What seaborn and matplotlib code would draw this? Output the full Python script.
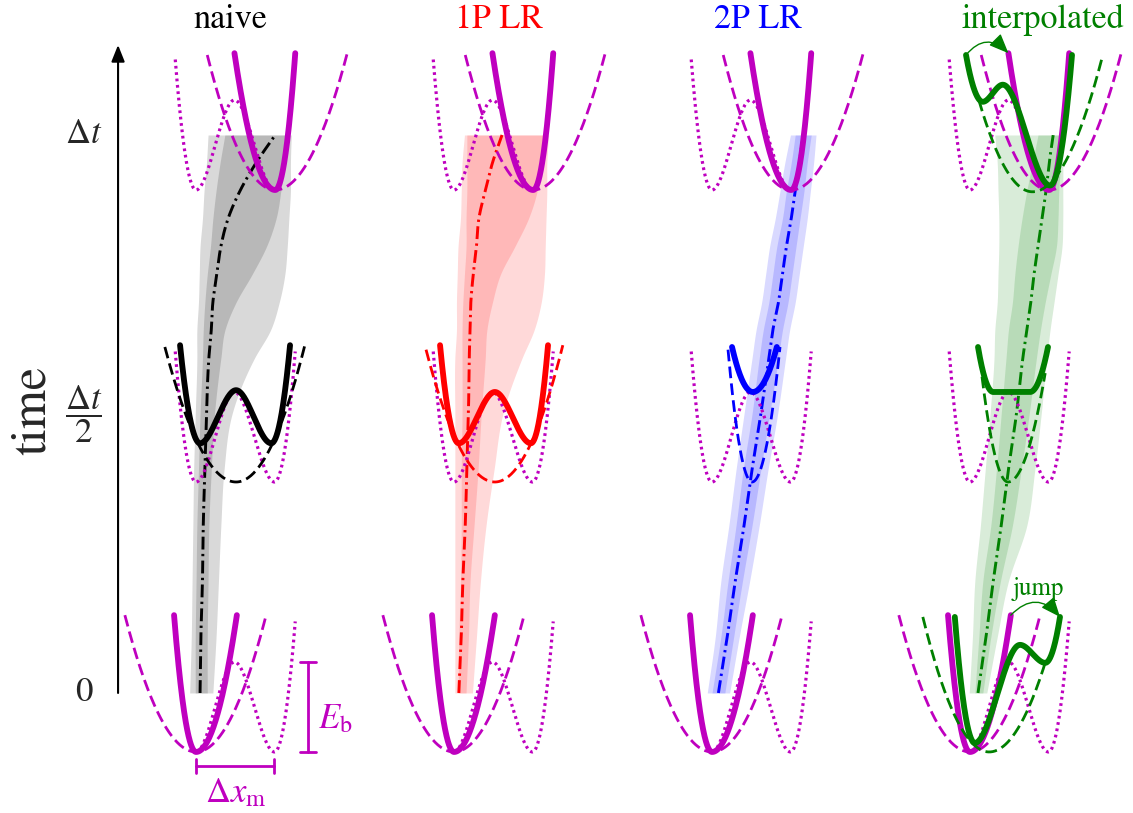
import numpy as np
import matplotlib
matplotlib.use("Agg")
import matplotlib.pyplot as plt
import seaborn as sns

# ---------------------------------------------------------------- content
METHODS = ["naive", "1P LR", "2P LR", "interpolated"]
METHOD_COLORS = ["black", "red", "blue", "green"]
TITLE_OFFSETS = [0.43, 0.56, 0.58, 0.91]
MAGENTA = "#bf00bf"

TIME_TICKS = [0.0, 0.5, 1.0]
TIME_LABELS = ["0", r"$\dfrac{\Delta t}{2}$", r"$\Delta t$"]

# trajectory ensembles: time samples, mean path and two spread bands
# (positions in units of the well separation, relative to the left minimum)
T_SAMPLES = [0.0, 0.1, 0.2, 0.3, 0.4, 0.5, 0.6, 0.65, 0.7, 0.75, 0.8, 0.85, 0.9, 0.95, 1.0]

naive_mean = [0.05, 0.06, 0.08, 0.09, 0.11, 0.13, 0.16, 0.19, 0.21, 0.26, 0.31, 0.40, 0.55, 0.75, 0.99]
naive_outer_lo = [-0.08, -0.06, -0.05, -0.04, -0.03, -0.01, 0.01, 0.01, 0.03, 0.04, 0.05, 0.08, 0.10, 0.13, 0.15]
naive_outer_hi = [0.21, 0.25, 0.28, 0.31, 0.35, 0.45, 0.73, 0.93, 1.04, 1.11, 1.14, 1.16, 1.18, 1.18, 1.19]
naive_inner_lo = [-0.01, -0.01, 0.00, 0.01, 0.03, 0.05, 0.08, 0.09, 0.11, 0.14, 0.18, 0.21, 0.25, 0.30, 0.36]
naive_inner_hi = [0.14, 0.14, 0.15, 0.16, 0.19, 0.23, 0.31, 0.36, 0.50, 0.70, 0.88, 1.00, 1.06, 1.10, 1.13]

lr1_mean = [0.06, 0.09, 0.11, 0.14, 0.16, 0.18, 0.19, 0.20, 0.21, 0.24, 0.28, 0.31, 0.39, 0.48, 0.60]
lr1_outer_lo = [0.01, 0.01, 0.01, 0.01, 0.01, 0.01, 0.01, 0.03, 0.03, 0.04, 0.05, 0.08, 0.09, 0.10, 0.13]
lr1_outer_hi = [0.23, 0.28, 0.33, 0.40, 0.50, 0.61, 0.85, 1.00, 1.09, 1.13, 1.14, 1.15, 1.16, 1.16, 1.18]
lr1_inner_lo = [0.05, 0.06, 0.08, 0.09, 0.09, 0.10, 0.10, 0.10, 0.11, 0.13, 0.15, 0.15, 0.16, 0.16, 0.16]
lr1_inner_hi = [0.15, 0.18, 0.20, 0.25, 0.30, 0.34, 0.39, 0.41, 0.48, 0.58, 0.76, 0.93, 1.04, 1.09, 1.11]

lr2_mean = [0.08, 0.19, 0.29, 0.40, 0.50, 0.61, 0.71, 0.76, 0.83, 0.88, 0.93, 0.99, 1.04, 1.09, 1.14]
lr2_outer_lo = [-0.06, 0.04, 0.11, 0.21, 0.30, 0.40, 0.50, 0.55, 0.62, 0.67, 0.72, 0.79, 0.85, 0.91, 0.98]
lr2_outer_hi = [0.22, 0.34, 0.47, 0.59, 0.70, 0.82, 0.92, 0.97, 1.04, 1.09, 1.14, 1.19, 1.23, 1.27, 1.30]
lr2_inner_lo = [0.00, 0.11, 0.20, 0.30, 0.39, 0.50, 0.59, 0.64, 0.71, 0.76, 0.81, 0.88, 0.93, 0.99, 1.04]
lr2_inner_hi = [0.16, 0.27, 0.38, 0.50, 0.61, 0.72, 0.83, 0.88, 0.95, 1.00, 1.05, 1.10, 1.15, 1.19, 1.24]

interp_mean = [0.10, 0.20, 0.29, 0.39, 0.48, 0.58, 0.66, 0.71, 0.76, 0.80, 0.85, 0.90, 0.95, 0.99, 1.04]
interp_outer_lo = [-0.01, 0.03, 0.06, 0.13, 0.19, 0.25, 0.30, 0.31, 0.34, 0.35, 0.36, 0.36, 0.35, 0.34, 0.31]
interp_outer_hi = [0.21, 0.34, 0.48, 0.71, 0.81, 0.89, 0.96, 1.00, 1.05, 1.10, 1.15, 1.16, 1.16, 1.16, 1.15]
interp_inner_lo = [0.06, 0.11, 0.16, 0.26, 0.33, 0.39, 0.45, 0.48, 0.53, 0.56, 0.60, 0.65, 0.71, 0.78, 0.85]
interp_inner_hi = [0.16, 0.26, 0.38, 0.53, 0.64, 0.74, 0.83, 0.88, 0.94, 1.01, 1.08, 1.10, 1.11, 1.13, 1.13]

ENSEMBLES = [
    (naive_mean, naive_outer_lo, naive_outer_hi, naive_inner_lo, naive_inner_hi),
    (lr1_mean, lr1_outer_lo, lr1_outer_hi, lr1_inner_lo, lr1_inner_hi),
    (lr2_mean, lr2_outer_lo, lr2_outer_hi, lr2_inner_lo, lr2_inner_hi),
    (interp_mean, interp_outer_lo, interp_outer_hi, interp_inner_lo, interp_inner_hi),
]

# potential profiles: (position, energy in units of E_b) turning points
dw_exact = [(-0.26, 1.45), (0.0, 0.0), (0.48, 1.0), (0.98, 0.0), (1.24, 1.45)]
stiff_start = [(-0.275, 1.52), (0.0, 0.0), (0.51, 1.52)]
stiff_end = [(0.48, 1.52), (0.99, 0.0), (1.24, 1.52)]
soft_start = [(-0.89, 1.52), (0.0, 0.0), (0.87, 1.50)]
soft_end = [(0.14, 1.50), (0.99, 0.0), (1.89, 1.52)]

naive_mid_solid = [(-0.20, 1.52), (0.05, 0.43), (0.50, 1.02), (0.94, 0.43), (1.175, 1.52)]
naive_mid_dashed = [(-0.39, 1.50), (0.50, 0.0), (1.36, 1.52)]
lr1_mid_solid = [(-0.175, 1.52), (0.06, 0.43), (0.51, 1.0), (0.96, 0.43), (1.175, 1.52)]
lr1_mid_dashed = [(-0.35, 1.47), (0.51, 0.0), (1.36, 1.52)]
lr2_mid_solid = [(0.25, 1.50), (0.51, 1.0), (0.81, 1.50)]
lr2_mid_dashed = [(0.20, 1.47), (0.50, 0.0), (0.85, 1.50)]
interp_mid_solid = [(0.10, 1.50), (0.29, 1.0), (0.75, 1.0), (0.975, 1.50)]
interp_mid_dashed = [(0.15, 1.17), (0.475, 0.0), (0.94, 1.21)]
interp_start_solid = [(-0.19, 1.50), (0.06, 0.10), (0.625, 1.19), (0.94, 0.99), (1.125, 1.50)]
interp_start_dashed = [(-0.59, 1.50), (0.24, 0.0), (0.95, 1.02)]
interp_end_solid = [(-0.05, 1.50), (0.16, 0.98), (0.41, 1.17), (1.0, 0.05), (1.275, 1.50)]
interp_end_dashed = [(0.11, 1.0), (0.78, -0.02), (1.66, 1.50)]

MID_PROFILES = [
    (naive_mid_solid, naive_mid_dashed),
    (lr1_mid_solid, lr1_mid_dashed),
    (lr2_mid_solid, lr2_mid_dashed),
    (interp_mid_solid, interp_mid_dashed),
]

# ---------------------------------------------------------------- layout
COL_STEP = 3.225                      # horizontal spacing of the columns
ROW_BASE = [-0.1057, 0.3781, 0.9014]  # energy zero of each potential row (time units)
E_SCALE = 0.1613                      # time-axis units per E_b

LW_SOLID, LW_DASH, LW_DOT, LW_DASHDOT = 4.2, 2.0, 2.3, 2.1
DASHED = (0, (4.2, 1.9))
DOTTED = (0, (0.85, 1.15))
DASHDOT = (0, (4.4, 1.5, 0.8, 1.5))


def hermite_profile(points, n=80):
    """Smooth potential through turning points (zero slope inside, parabolic walls)."""
    xs, es = np.asarray(points, dtype=float).T
    m = np.zeros(len(xs))
    m[0] = 2 * (es[0] - es[1]) / (xs[0] - xs[1])
    m[-1] = 2 * (es[-1] - es[-2]) / (xs[-1] - xs[-2])
    s = np.linspace(0, 1, n)
    h00, h10 = 2 * s**3 - 3 * s**2 + 1, s**3 - 2 * s**2 + s
    h01, h11 = -2 * s**3 + 3 * s**2, s**3 - s**2
    X, E = [], []
    for i in range(len(xs) - 1):
        h = xs[i + 1] - xs[i]
        X.append(xs[i] + h * s)
        E.append(h00 * es[i] + h10 * h * m[i] + h01 * es[i + 1] + h11 * h * m[i + 1])
    return np.concatenate(X), np.concatenate(E)


def smooth_path(t, v, n=300):
    """Cubic Hermite curve through sampled values."""
    t = np.asarray(t, float)
    v = np.asarray(v, float)
    d = np.gradient(v, t)
    tt, vv = [], []
    s = np.linspace(0, 1, n // (len(t) - 1) + 2)
    for i in range(len(t) - 1):
        h = t[i + 1] - t[i]
        tt.append(t[i] + h * s)
        vv.append((2 * s**3 - 3 * s**2 + 1) * v[i] + (s**3 - 2 * s**2 + s) * h * d[i]
                  + (-2 * s**3 + 3 * s**2) * v[i + 1] + (s**3 - s**2) * h * d[i + 1])
    return np.concatenate(tt), np.concatenate(vv)


def line(ax, x, y, **kw):
    sns.lineplot(x=x, y=y, ax=ax, sort=False, estimator=None, **kw)


def potential(ax, points, col, row, **kw):
    x, e = hermite_profile(points)
    line(ax, x + col * COL_STEP, ROW_BASE[row] + e * E_SCALE, **kw)


def pot_point(point, col, row):
    return (point[0] + col * COL_STEP, ROW_BASE[row] + point[1] * E_SCALE)


sns.set_theme(style="white")
plt.rcParams["font.family"] = ["STIXGeneral", "DejaVu Serif"]
plt.rcParams["mathtext.fontset"] = "stix"

fig = plt.figure(figsize=(11.33, 8.13), dpi=100)
ax = fig.add_axes([0.1042, 0.0, 0.8958, 1.0])
ax.set_xlim(-0.975, 11.7125)
ax.set_ylim(-0.2151, 1.2419)

for c, (name, color) in enumerate(zip(METHODS, METHOD_COLORS)):
    x0 = c * COL_STEP
    mean, olo, ohi, ilo, ihi = ENSEMBLES[c]

    # trajectory spread
    tt, lo = smooth_path(T_SAMPLES, olo)
    _, hi = smooth_path(T_SAMPLES, ohi)
    ax.fill_betweenx(tt, lo + x0, hi + x0, color=color, alpha=0.15, lw=0, zorder=1)
    tt, lo = smooth_path(T_SAMPLES, ilo)
    _, hi = smooth_path(T_SAMPLES, ihi)
    ax.fill_betweenx(tt, lo + x0, hi + x0, color=color, alpha=0.15, lw=0, zorder=1)
    tt, mx = smooth_path(T_SAMPLES, mean)
    line(ax, mx + x0, tt, color=color, lw=LW_DASHDOT, linestyle=DASHDOT, zorder=2)

    # exact double well at every time level
    for r in range(3):
        potential(ax, dw_exact, c, r, color=MAGENTA, lw=LW_DOT, linestyle=DOTTED, zorder=3)
    # end-state potentials
    potential(ax, soft_start, c, 0, color=MAGENTA, lw=LW_DASH, linestyle=DASHED, zorder=3)
    potential(ax, stiff_start, c, 0, color=MAGENTA, lw=LW_SOLID, zorder=3)
    potential(ax, soft_end, c, 2, color=MAGENTA, lw=LW_DASH, linestyle=DASHED, zorder=3)
    potential(ax, stiff_end, c, 2, color=MAGENTA, lw=LW_SOLID, zorder=3)

    # midpoint potentials of each scheme
    solid, dashed = MID_PROFILES[c]
    potential(ax, dashed, c, 1, color=color, lw=LW_DASH, linestyle=DASHED, zorder=4)
    potential(ax, solid, c, 1, color=color, lw=LW_SOLID, zorder=5)

    ax.text(x0 + TITLE_OFFSETS[c], 1.1918, name, color=color, fontsize=24.5,
            ha="center", va="baseline")

# interpolated scheme: tilted wells at the end points and the jumps
ci = 3
potential(ax, interp_start_dashed, ci, 0, color="green", lw=LW_DASH, linestyle=DASHED, zorder=4)
potential(ax, interp_start_solid, ci, 0, color="green", lw=LW_SOLID, zorder=5)
potential(ax, interp_end_dashed, ci, 2, color="green", lw=LW_DASH, linestyle=DASHED, zorder=4)
potential(ax, interp_end_solid, ci, 2, color="green", lw=LW_SOLID, zorder=5)

jump_style = dict(arrowstyle="-|>,head_length=0.6,head_width=0.25", color="green",
                  lw=1.0, shrinkA=0, shrinkB=0, mutation_scale=20,
                  connectionstyle="arc3,rad=-0.55")
ax.annotate("", xy=pot_point(stiff_end[0], ci, 2), xytext=pot_point(interp_end_solid[0], ci, 2),
            arrowprops=jump_style, zorder=6)
ax.annotate("", xy=pot_point(interp_start_solid[-1], ci, 0), xytext=pot_point(stiff_start[-1], ci, 0),
            arrowprops=jump_style, zorder=6)
ax.text(ci * COL_STEP + 0.85, 0.1756, "jump", color="green", fontsize=18,
        ha="center", va="baseline")

# barrier height and well separation of the exact double well
eb = dw_exact[2][1]
bx = 1.4
line(ax, [bx, bx], [ROW_BASE[0], ROW_BASE[0] + eb * E_SCALE], color=MAGENTA, lw=2.0)
for ev in (0.0, eb):
    yy = ROW_BASE[0] + ev * E_SCALE
    line(ax, [bx - 0.1, bx + 0.1], [yy, yy], color=MAGENTA, lw=2.0)
ax.text(1.74, -0.0627, r"$E_\mathrm{b}$", color=MAGENTA, fontsize=25, ha="center", va="baseline")

dx0, dx1 = dw_exact[1][0], dw_exact[3][0]
yb = ROW_BASE[0] - 0.156 * E_SCALE
line(ax, [dx0, dx1], [yb, yb], color=MAGENTA, lw=2.0)
for xv in (dx0, dx1):
    line(ax, [xv, xv], [yb - 0.0125, yb + 0.0125], color=MAGENTA, lw=2.0)
ax.text((dx0 + dx1) / 2, -0.1953, r"$\Delta x_\mathrm{m}$", color=MAGENTA, fontsize=25,
        ha="center", va="baseline")

# time axis
ax.annotate("", xy=(-0.975, 1.1613), xytext=(-0.975, 0.0),
            arrowprops=dict(arrowstyle="-|>,head_length=0.5,head_width=0.2", color="black",
                            lw=1.5, shrinkA=0, shrinkB=0, mutation_scale=20),
            annotation_clip=False)
sns.despine(ax=ax, left=True, bottom=True)
ax.set_xticks([])
ax.set_yticks(TIME_TICKS, TIME_LABELS)
ax.tick_params(axis="y", length=0, pad=24.5, labelsize=25)
for lbl in ax.get_yticklabels():
    lbl.set_ha("center")
    lbl.set_va("center")
ax.set_xlabel("")
ax.set_ylabel("time", fontsize=36, va="center")
ax.yaxis.set_label_coords(-0.0837, 0.4945)
ax.grid(False)

fig.savefig("out.png", dpi=100)
